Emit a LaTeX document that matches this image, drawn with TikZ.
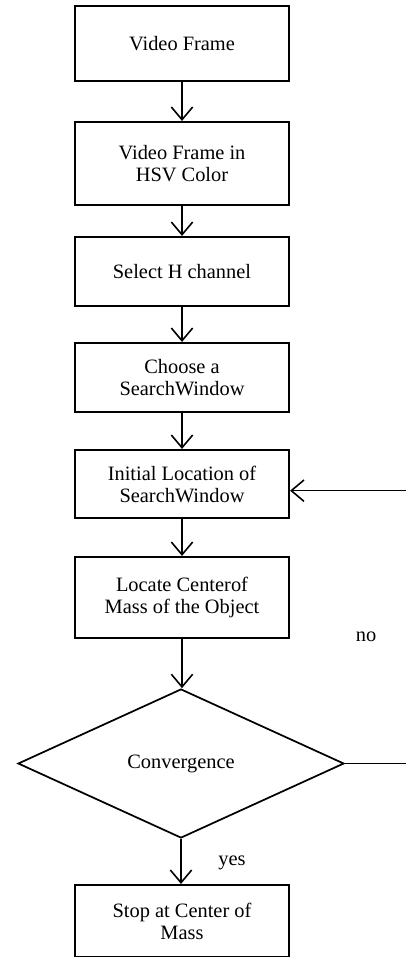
\documentclass[tikz,border=0pt]{standalone}
\usepackage{fontspec}
\setmainfont{Liberation Serif}
\usepackage{tikz}
\usetikzlibrary{arrows.meta}
\usetikzlibrary{shapes,shapes.geometric}

\begin{document}
\begin{tikzpicture}[x=0.75pt,y=-0.75pt,
		box/.style={draw,line width=1.6pt,minimum width=160.5pt,inner sep=2pt,align=center,
			font=\fontsize{15.3pt}{16.5pt}\selectfont},
		flow/.style={line width=1.2pt,-{Straight Barb[length=9.5pt,width=16pt,line width=1.2pt]}},
		lbl/.style={font=\fontsize{15.3pt}{16.5pt}\selectfont,inner sep=0pt}]
			\useasboundingbox (0,0) rectangle (406,957);
			\node [box,minimum height=56.25pt] (frame) at (182,43.5) {Video Frame};
			\node [box,minimum height=62.25pt] (hsv) at (182,163.5) {Video Frame in\\HSV Color};
			\node [box,minimum height=51.75pt] (hch) at (182,271.5) {Select H channel};
			\node [box,minimum height=51.75pt] (choose) at (182,377.5) {Choose a\\SearchWindow};
			\node [box,minimum height=51pt] (init) at (182,484) {Initial Location of\\SearchWindow};
			\node [box,minimum height=60.75pt] (locate) at (182,597.5) {Locate Centerof\\Mass of the Object};
			\node [draw,diamond,line width=1.3pt,inner sep=0pt,minimum width=244.5pt,minimum height=111.75pt,
				font=\fontsize{15.3pt}{16.5pt}\selectfont] (conv) at (181,763.5) {Convergence};
			\node [box,minimum height=54pt] (stop) at (182,921) {Stop at Center of\\Mass};
			\node [lbl] (no) at (366,637) {no};
			\node [lbl] (yes) at (232,863) {yes};
			\coordinate (back) at (412,763.5);
			\draw [flow] (frame) -- (hsv);
			\draw [flow] (hsv) -- (hch);
			\draw [flow] (hch) -- (choose);
			\draw [flow] (choose) -- (init);
			\draw [flow] (init) -- (locate);
			\draw [flow] (locate.south) -- (locate.south |- conv.north);
			\draw [flow] (conv.south) -- (conv.south |- stop.north);
			\draw [flow] (conv.east) -- (back) |- ([yshift=-5pt]init.east);
		\end{tikzpicture}
\end{document}
